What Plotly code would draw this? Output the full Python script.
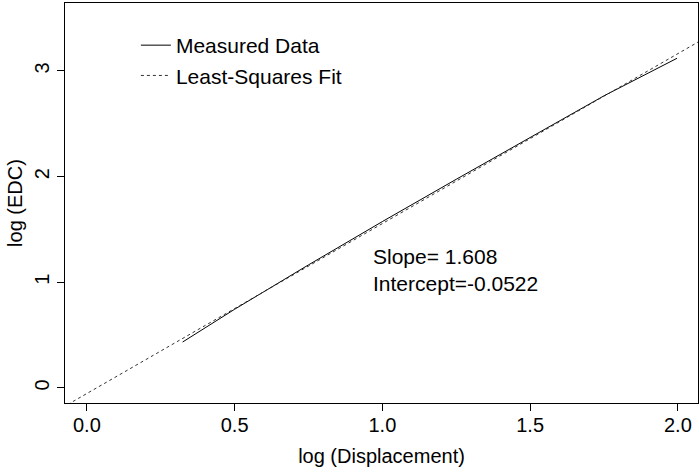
import plotly.graph_objects as go

meas_x = [0.324, 0.5, 0.75, 1.0, 1.25, 1.5, 1.75, 1.997]
meas_y = [0.435, 0.745, 1.165, 1.575, 1.975, 2.37, 2.765, 3.12]

# Least-squares fit
slope = 1.608
intercept = -0.0522
fit_x = [-0.1, 2.1]
fit_y = [slope * x + intercept for x in fit_x]

x_ticks = [0.0, 0.5, 1.0, 1.5, 2.0]
x_tick_labels = ["0.0", "0.5", "1.0", "1.5", "2.0"]
y_ticks = [0, 1, 2, 3]
y_tick_labels = ["0", "1", "2", "3"]

FONT = "Liberation Sans, Arial, Helvetica, sans-serif"

fig = go.Figure()
fig.add_trace(go.Scatter(x=meas_x, y=meas_y, mode="lines", name="Measured Data",
                         line=dict(color="black", width=1)))
fig.add_trace(go.Scatter(x=fit_x, y=fit_y, mode="lines", name="Least-Squares Fit",
                         line=dict(color="#333333", width=1, dash="dot")))

fig.add_annotation(x=0.96, y=1.24, xref="x", yref="y", text="Slope= 1.608",
                   showarrow=False, xanchor="left", yanchor="middle",
                   font=dict(size=21, color="black", family=FONT))
fig.add_annotation(x=0.96, y=0.99, xref="x", yref="y", text="Intercept=-0.0522",
                   showarrow=False, xanchor="left", yanchor="middle",
                   font=dict(size=21, color="black", family=FONT))

axis_common = dict(showgrid=False, zeroline=False, showline=True, linecolor="black",
                   linewidth=1, mirror=True, ticks="outside", ticklen=7,
                   tickcolor="black", tickfont=dict(size=20, color="black", family=FONT))

fig.update_layout(
    width=699, height=472,
    margin=dict(l=65, r=1, t=3, b=69),
    plot_bgcolor="white", paper_bgcolor="white",
    font=dict(family=FONT, size=20, color="black"),
    showlegend=True,
    legend=dict(x=0.112, y=0.945, xanchor="left", yanchor="top",
                bgcolor="rgba(0,0,0,0)", font=dict(size=21, family=FONT),
                tracegroupgap=0, itemwidth=30),
    xaxis=dict(range=[-0.074, 2.068], tickvals=x_ticks, ticktext=x_tick_labels,
               ticklabelstandoff=-3,
               title=dict(text="log (Displacement)", font=dict(size=20), standoff=13),
               **axis_common),
    yaxis=dict(range=[-0.142, 3.643], tickvals=y_ticks, ticktext=y_tick_labels,
               tickangle=-90,
               title=dict(text="log (EDC)", font=dict(size=20), standoff=3),
               **axis_common),
)

fig.write_html("out.html")
